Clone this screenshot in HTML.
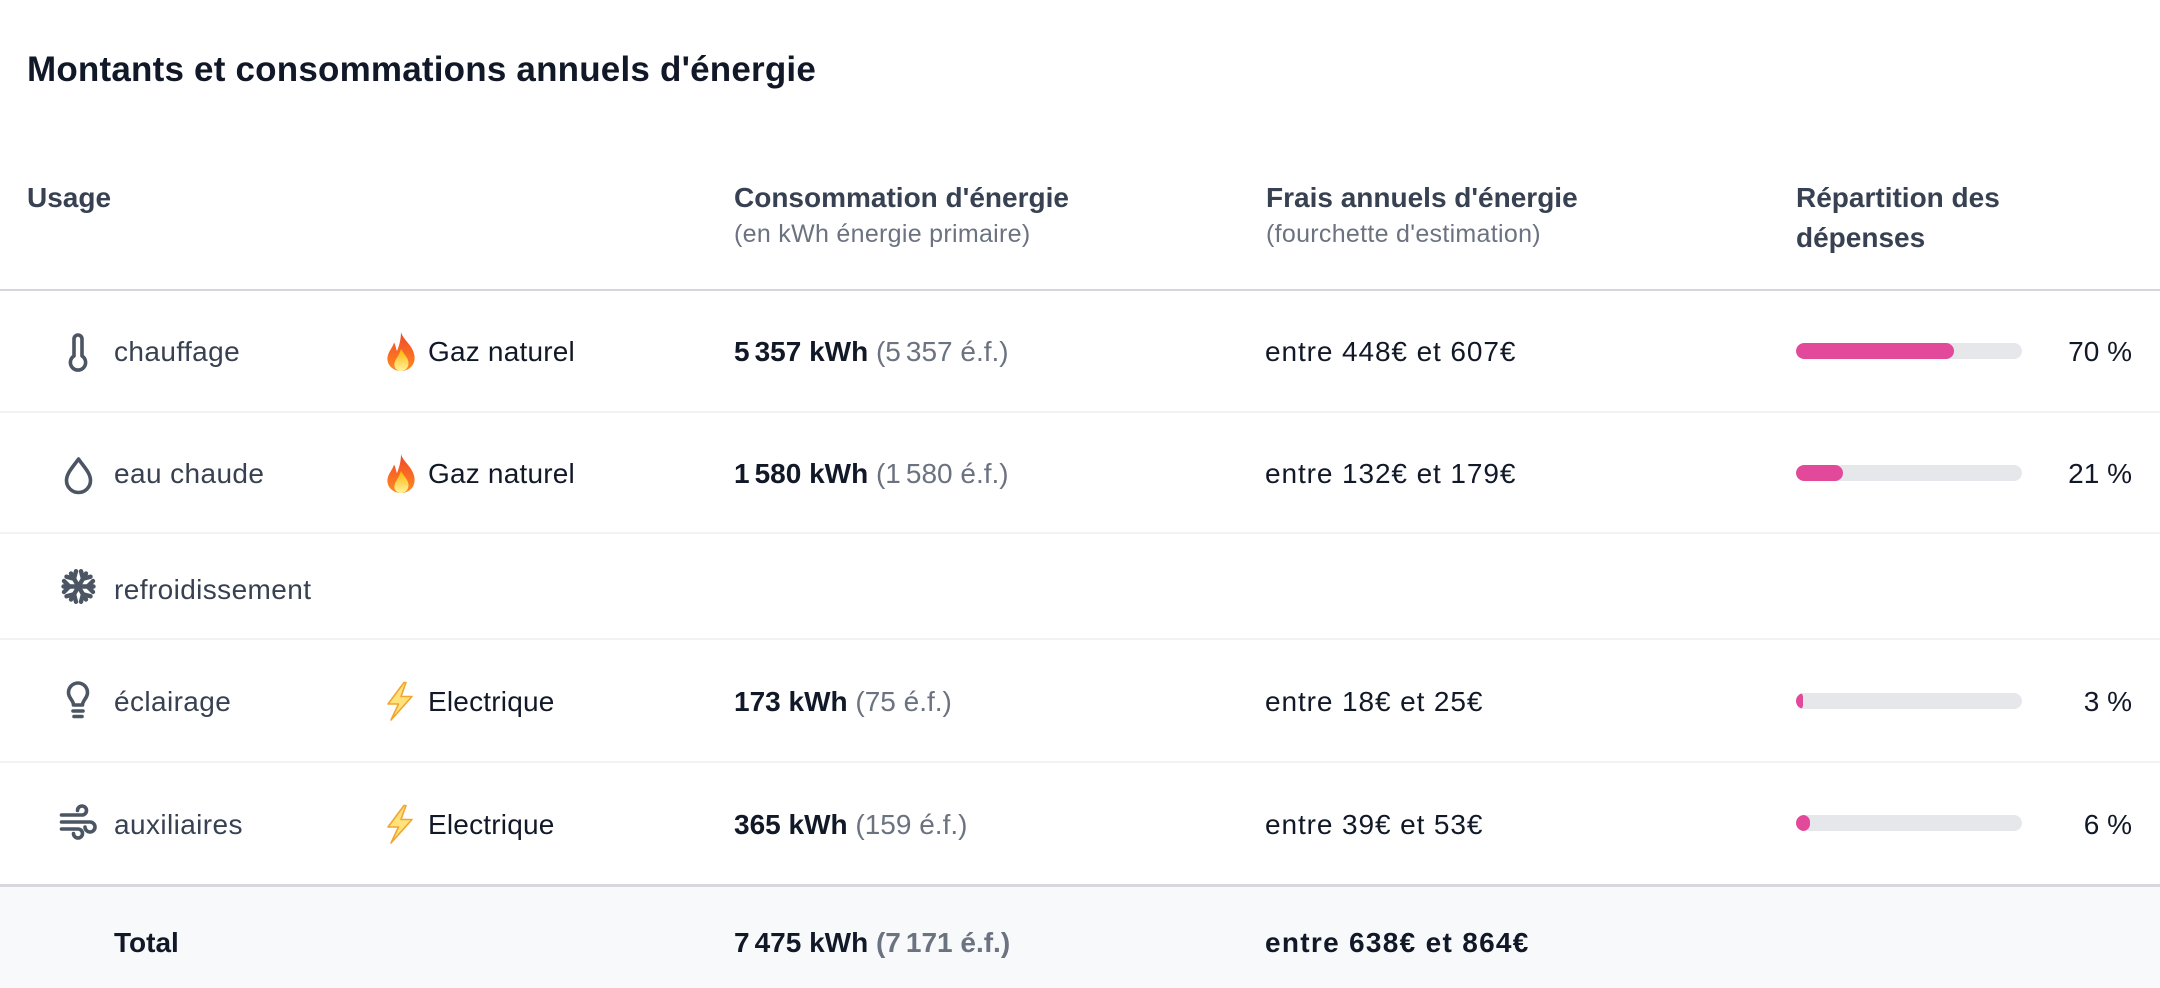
<!DOCTYPE html>
<html>
<head>
<meta charset="utf-8">
<style>
  html, body { margin:0; padding:0; }
  body { width:2160px; height:988px; position:relative; overflow:hidden; background:#ffffff;
         font-family:"Liberation Sans", Arial, sans-serif; }
  .t { position:absolute; white-space:nowrap; line-height:1; }
  .title { font-size:35px; font-weight:bold; color:#111827; letter-spacing:0.2px; }
  .h { font-size:28px; font-weight:bold; color:#374151; }
  .sub { font-size:25px; color:#6b7280; letter-spacing:0.3px; }
  .lab { font-size:28px; color:#374151; letter-spacing:0.4px; }
  .en { font-size:28px; color:#111827; letter-spacing:0.2px; }
  .num { font-size:28px; color:#111827; }
  .num b { font-weight:bold; }
  .num .g { color:#6b7280; }
  .fr { font-size:28px; color:#111827; letter-spacing:0.9px; }
  .pc { font-size:28px; color:#111827; text-align:right; }
  .ns { display:inline-block; width:5px; }
  .line { position:absolute; left:0; width:2160px; }
  .track { position:absolute; left:1796px; width:226px; height:16px; border-radius:8px; background:#e5e7eb; overflow:hidden; }
  .fill { position:absolute; left:0; top:0; height:16px; border-radius:8px; background:#e2499a; }
  svg { position:absolute; overflow:visible; }
</style>
</head>
<body>

<div class="t title" style="left:27px; top:52.4px;">Montants et consommations annuels d'énergie</div>

<!-- headers -->
<div class="t h" style="left:27px; top:184.3px;">Usage</div>
<div class="t h" style="left:734px; top:184.3px;">Consommation d'énergie</div>
<div class="t sub" style="left:734px; top:221.5px;">(en kWh énergie primaire)</div>
<div class="t h" style="left:1266px; top:184.3px;">Frais annuels d'énergie</div>
<div class="t sub" style="left:1266px; top:221.5px;">(fourchette d'estimation)</div>
<div class="t h" style="left:1796px; top:184.3px;">Répartition des</div>
<div class="t h" style="left:1796px; top:224.3px;">dépenses</div>

<!-- lines -->
<div class="line" style="top:289px; height:2px; background:#d4d6db;"></div>
<div class="line" style="top:411px; height:2px; background:#f2f3f5;"></div>
<div class="line" style="top:532px; height:2px; background:#f2f3f5;"></div>
<div class="line" style="top:638px; height:2px; background:#f2f3f5;"></div>
<div class="line" style="top:761px; height:2px; background:#f2f3f5;"></div>
<div class="line" style="top:887px; height:101px; background:#f8f9fb;"></div>
<div class="line" style="top:884px; height:3px; background:#d6d8dd;"></div>

<!-- icons -->
<svg width="2160" height="988" style="left:0;top:0;" viewBox="0 0 2160 988">
  <g fill="none" stroke="#4b5563" stroke-width="3.6" stroke-linecap="round" stroke-linejoin="round">
    <!-- thermometer -->
    <path d="M74 356 V339 a4 4 0 0 1 8 0 V356 a7.6 7.6 0 1 1 -8 0 Z"/>
    <!-- drop -->
    <path d="M78.5 459 C73 467 66.5 473 66.5 480.5 a12 12 0 0 0 24 0 C90.5 473 84 467 78.5 459 Z"/>
    <!-- lightbulb -->
    <path d="M73.5 705 C73.5 700 68.5 698.5 68.5 692.5 a9.5 9.5 0 0 1 19 0 C87.5 698.5 82.5 700 82.5 705 Z"/>
    <path d="M73 711 H83"/>
    <path d="M74 716.5 H82"/>
    <!-- wind -->
    <path d="M61.5 815 H82 a4.5 4.5 0 1 0 -4.5 -4.5"/>
    <path d="M61.5 822 H90 a5 5 0 1 1 -5 5"/>
    <path d="M61.5 829 H78 a4.5 4.5 0 1 1 -4.5 4.5"/>
  </g>
  <!-- snowflake -->
  <g stroke="#4b5563" stroke-width="4.4" stroke-linecap="round" stroke-linejoin="round" fill="none" transform="translate(78.5 586.5) rotate(90)">
    <g>
      <path d="M0 -15 V15"/><path d="M-5.5 -14.5 L0 -9 L5.5 -14.5"/><path d="M-5.5 14.5 L0 9 L5.5 14.5"/>
    </g>
    <g transform="rotate(60)">
      <path d="M0 -15 V15"/><path d="M-5.5 -14.5 L0 -9 L5.5 -14.5"/><path d="M-5.5 14.5 L0 9 L5.5 14.5"/>
    </g>
    <g transform="rotate(120)">
      <path d="M0 -15 V15"/><path d="M-5.5 -14.5 L0 -9 L5.5 -14.5"/><path d="M-5.5 14.5 L0 9 L5.5 14.5"/>
    </g>
  </g>
  <defs>
    <linearGradient id="fo" x1="0" y1="0" x2="0" y2="1">
      <stop offset="0" stop-color="#f0462a"/>
      <stop offset="1" stop-color="#ff8a1f"/>
    </linearGradient>
    <linearGradient id="fi" x1="0" y1="0" x2="0" y2="1">
      <stop offset="0" stop-color="#ffb300"/>
      <stop offset="1" stop-color="#fff3a0"/>
    </linearGradient>
  </defs>
  <!-- fire 1 -->
  <g transform="translate(385 332)">
    <path fill="url(#fo)" d="M16 0 C18 8 28 13 29.5 24 C30.5 33 24 39 16 39 C8 39 1.5 33 2.5 25 C3.5 19 7.5 16 9 10.5 C11 14 11 17.5 12 19 C14 14 16 8 16 0 Z"/>
    <path fill="url(#fi)" d="M16 17 C19 22.5 24 26.5 23.5 32 C23 36.5 19.5 39 16 39 C12 39 8.5 36 9.5 31 C10.5 26.5 14 24 16 17 Z"/>
  </g>
  <!-- fire 2 -->
  <g transform="translate(385 454)">
    <path fill="url(#fo)" d="M16 0 C18 8 28 13 29.5 24 C30.5 33 24 39 16 39 C8 39 1.5 33 2.5 25 C3.5 19 7.5 16 9 10.5 C11 14 11 17.5 12 19 C14 14 16 8 16 0 Z"/>
    <path fill="url(#fi)" d="M16 17 C19 22.5 24 26.5 23.5 32 C23 36.5 19.5 39 16 39 C12 39 8.5 36 9.5 31 C10.5 26.5 14 24 16 17 Z"/>
  </g>
  <!-- lightning 1 -->
  <g transform="translate(386 682)">
    <path d="M18 0.5 L2 22 L12.5 22 L5 38 L26 14.5 L15 14.5 L20 0.5 Z" fill="#ffe27a" stroke="#f2a531" stroke-width="1.6" stroke-linejoin="round"/>
  </g>
  <!-- lightning 2 -->
  <g transform="translate(386 805)">
    <path d="M18 0.5 L2 22 L12.5 22 L5 38 L26 14.5 L15 14.5 L20 0.5 Z" fill="#ffe27a" stroke="#f2a531" stroke-width="1.6" stroke-linejoin="round"/>
  </g>
</svg>

<!-- row 1 -->
<div class="t lab" style="left:114px; top:338.3px;">chauffage</div>
<div class="t en" style="left:428px; top:338.3px;">Gaz naturel</div>
<div class="t num" style="left:734px; top:338.3px;"><b>5<span class="ns"></span>357 kWh</b> <span class="g">(5<span class="ns"></span>357 é.f.)</span></div>
<div class="t fr" style="left:1265px; top:338.3px;">entre 448€ et 607€</div>
<div class="track" style="top:343px;"><div class="fill" style="width:158px;"></div></div>
<div class="t pc" style="right:28px; top:338.3px;">70&nbsp;%</div>

<!-- row 2 -->
<div class="t lab" style="left:114px; top:460.3px;">eau chaude</div>
<div class="t en" style="left:428px; top:460.3px;">Gaz naturel</div>
<div class="t num" style="left:734px; top:460.3px;"><b>1<span class="ns"></span>580 kWh</b> <span class="g">(1<span class="ns"></span>580 é.f.)</span></div>
<div class="t fr" style="left:1265px; top:460.3px;">entre 132€ et 179€</div>
<div class="track" style="top:465px;"><div class="fill" style="width:47px;"></div></div>
<div class="t pc" style="right:28px; top:460.3px;">21&nbsp;%</div>

<!-- row 3 -->
<div class="t lab" style="left:114px; top:575.5px;">refroidissement</div>

<!-- row 4 -->
<div class="t lab" style="left:114px; top:688.3px;">éclairage</div>
<div class="t en" style="left:428px; top:688.3px;">Electrique</div>
<div class="t num" style="left:734px; top:688.3px;"><b>173 kWh</b> <span class="g">(75 é.f.)</span></div>
<div class="t fr" style="left:1265px; top:688.3px;">entre 18€ et 25€</div>
<div class="track" style="top:693px;"><div class="fill" style="width:7px;"></div></div>
<div class="t pc" style="right:28px; top:688.3px;">3&nbsp;%</div>

<!-- row 5 -->
<div class="t lab" style="left:114px; top:811.3px;">auxiliaires</div>
<div class="t en" style="left:428px; top:811.3px;">Electrique</div>
<div class="t num" style="left:734px; top:811.3px;"><b>365 kWh</b> <span class="g">(159 é.f.)</span></div>
<div class="t fr" style="left:1265px; top:811.3px;">entre 39€ et 53€</div>
<div class="track" style="top:815px;"><div class="fill" style="width:14px;"></div></div>
<div class="t pc" style="right:28px; top:811.3px;">6&nbsp;%</div>

<!-- total -->
<div class="t num" style="left:114px; top:928.5px;"><b>Total</b></div>
<div class="t num" style="left:734px; top:928.5px;"><b>7<span class="ns"></span>475 kWh</b> <b class="g">(7<span class="ns"></span>171 é.f.)</b></div>
<div class="t fr" style="left:1265px; top:928.5px; font-weight:bold; letter-spacing:1.3px;">entre 638€ et 864€</div>

</body>
</html>
